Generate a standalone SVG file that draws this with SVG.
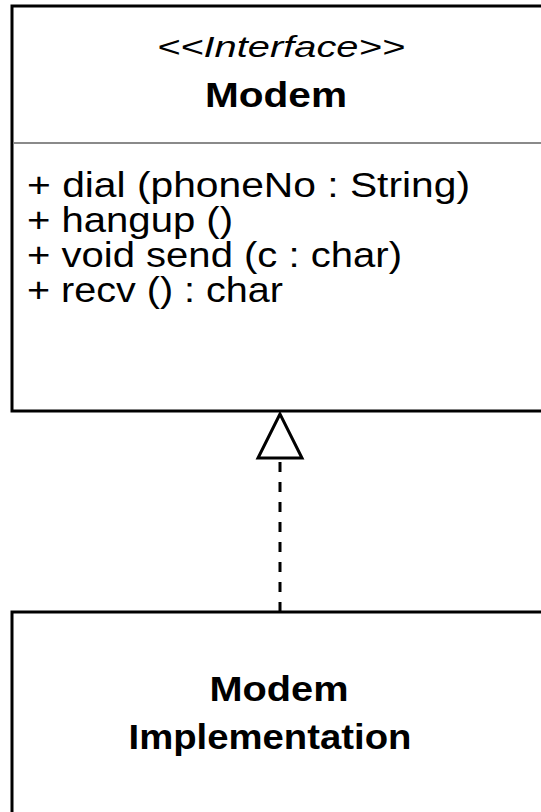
<svg xmlns="http://www.w3.org/2000/svg" width="541" height="812" viewBox="0 0 541 812">
  <style>
    .box { fill: #ffffff; stroke: #000000; stroke-width: 3; }
    .divider { stroke: #8a8a8a; stroke-width: 2; }
    .stereo { font-family: "Liberation Sans", Arial, sans-serif; font-style: italic; font-size: 30px; fill: #000; }
    .name { font-family: "Liberation Sans", Arial, sans-serif; font-weight: bold; font-size: 35px; fill: #000; }
    .op { font-family: "Liberation Sans", Arial, sans-serif; font-size: 35px; fill: #000; }
    .dep { stroke: #000; stroke-width: 3; stroke-dasharray: 10 10; fill: none; }
    .realize { fill: #ffffff; stroke: #000; stroke-width: 3; stroke-linejoin: miter; }
  </style>
  <rect x="0" y="0" width="541" height="812" fill="#ffffff"/>

  <!-- Interface class -->
  <g id="modem-interface">
    <rect class="box" x="12" y="6" width="560" height="405"/>
    <text class="stereo" x="281" y="57" text-anchor="middle" textLength="248" lengthAdjust="spacingAndGlyphs">&lt;&lt;Interface&gt;&gt;</text>
    <text class="name" x="276" y="107" text-anchor="middle" textLength="142" lengthAdjust="spacingAndGlyphs">Modem</text>
    <line class="divider" x1="13.5" y1="143" x2="541" y2="143"/>
    <text class="op" x="27" y="197" textLength="443" lengthAdjust="spacingAndGlyphs">+ dial (phoneNo : String)</text>
    <text class="op" x="27" y="232" textLength="206" lengthAdjust="spacingAndGlyphs">+ hangup ()</text>
    <text class="op" x="27" y="267" textLength="375" lengthAdjust="spacingAndGlyphs">+ void send (c : char)</text>
    <text class="op" x="27" y="302" textLength="256" lengthAdjust="spacingAndGlyphs">+ recv () : char</text>
  </g>

  <!-- Implementation class -->
  <g id="modem-implementation">
    <rect class="box" x="12" y="612" width="560" height="220"/>
    <text class="name" x="279" y="701" text-anchor="middle" textLength="139" lengthAdjust="spacingAndGlyphs">Modem</text>
    <text class="name" x="270" y="749" text-anchor="middle" textLength="283" lengthAdjust="spacingAndGlyphs">Implementation</text>
  </g>

  <!-- Realization connector -->
  <g id="connectors">
    <line class="dep" x1="280" y1="462" x2="280" y2="611"/>
    <polygon class="realize" points="280,414 258,458 302,458"/>
  </g>
</svg>
